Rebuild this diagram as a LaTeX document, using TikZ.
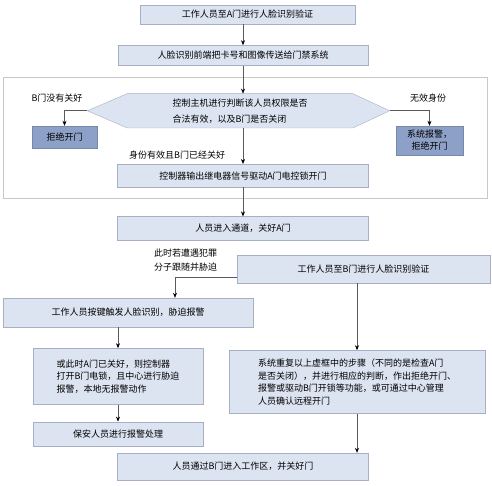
\documentclass[tikz,border=0pt]{standalone}
\usepackage{fontspec}
\newfontfamily\cjk{Noto Sans CJK SC}
\usetikzlibrary{positioning,arrows.meta,backgrounds}

\definecolor{boxfill}{RGB}{220,227,241}
\definecolor{boxline}{RGB}{168,175,196}
\definecolor{darkfill}{RGB}{141,160,199}
\definecolor{frameline}{RGB}{200,200,200}
\definecolor{linkline}{RGB}{90,90,90}

\tikzset{
  flowbox/.style={draw=boxline, fill=boxfill, inner sep=0pt, align=center,
    font=\cjk\fontsize{9}{12.7}\selectfont},
  darkbox/.style={flowbox, fill=darkfill, draw=darkfill!85!black},
  note/.style={inner sep=0pt, align=left, font=\cjk\fontsize{9}{14}\selectfont},
  hexa/.style={draw=boxline, fill=boxfill},
  frame/.style={draw=frameline, line width=0.6pt},
  link/.style={draw=linkline, line width=0.6pt},
  arr/.style={link, -{Stealth[length=5pt,width=4pt,color=black]}},
}

\begin{document}
\begin{tikzpicture}[x=1pt,y=1pt]
    \useasboundingbox (0,0) rectangle (492,-486);

    % Define nodes
    \node[flowbox, minimum width=215pt, minimum height=19pt] (a-verify) at (247.5,-14.5) {工作人员至A门进行人脸识别验证};
    \node[flowbox, minimum width=250pt, minimum height=20pt, below=21pt of a-verify, xshift=-4.5pt] (send) {人脸识别前端把卡号和图像传送给门禁系统};
    \node[note, font=\cjk\fontsize{9}{16}\selectfont, minimum width=225pt, minimum height=34pt, below=28pt of send, xshift=-3pt] (judge) {控制主机进行判断该人员权限是否\\合法有效，以及B门是否关闭};
    \coordinate[left=40pt of judge.west] (tip-l);
    \coordinate[right=37pt of judge.east] (tip-r);
    \node[flowbox, minimum width=251pt, minimum height=23pt, below=36pt of judge, xshift=3pt] (ctrl) {控制器输出继电器信号驱动A门电控锁开门};
    \node[flowbox, minimum width=251pt, minimum height=24pt, below=29pt of ctrl] (enter) {人员进入通道，关好A门};
    \node[darkbox, minimum width=65pt, minimum height=22pt] (no-l) at (64.5,-137) {拒绝开门};
    \node[darkbox, minimum width=67pt, minimum height=29pt, font=\cjk\fontsize{9}{12}\selectfont] (no-r) at (429.5,-140.5) {系统报警，\\拒绝开门};
    \node[note] (lbl-b) at (57,-98) {B门没有关好};
    \node[note] (lbl-inv) at (428,-98) {无效身份};
    \node[note, anchor=west] (lbl-ok) at (129,-155) {身份有效且B门已经关好};
    \node[note, anchor=west] (lbl-crim) at (154,-260) {此时若遭遇犯罪\\分子跟随并胁迫};
    \node[flowbox, minimum width=253pt, minimum height=28pt] (b-verify) at (363.5,-269) {工作人员至B门进行人脸识别验证};
    \node[flowbox, minimum width=250pt, minimum height=29pt] (duress) at (128,-312.5) {工作人员按键触发人脸识别，胁迫报警};
    \node[flowbox, align=left, minimum width=170pt, minimum height=56pt, below=21pt of duress, xshift=-10pt] (alarm) {或此时A门已关好，则控制器\\打开B门电锁，且中心进行胁迫\\报警，本地无报警动作};
    \node[flowbox, minimum width=170pt, minimum height=24pt, below=17pt of alarm] (guard) {保安人员进行报警处理};
    \node[flowbox, align=left, minimum width=256pt, minimum height=63pt, below=67pt of b-verify, xshift=-6.5pt] (repeat) {系统重复以上虚框中的步骤（不同的是检查A门\\是否关闭），并进行相应的判断，作出拒绝开门、\\报警或驱动B门开锁等功能，或可通过中心管理\\人员确认远程开门};
    \node[flowbox, minimum width=251pt, minimum height=27pt] (pass) at (243,-466.5) {人员通过B门进入工作区，并关好门};

    % Hexagon and frame
    \begin{scope}[on background layer]
      \draw[hexa] (judge.north west) -- (judge.north east) -- (tip-r) -- (judge.south east)
        -- (judge.south west) -- (tip-l) -- cycle;
      \draw[frame] (3,-77) rectangle (487,-198);
    \end{scope}

    % Connect the nodes
    \draw[arr] (send.north |- a-verify.south) -- (send.north);
    \draw[arr] (send.south) -- (send.south |- judge.north);
    \draw[arr] (tip-l) -| (no-l.north);
    \draw[arr] (tip-r) -| (no-r.north);
    \draw[arr] (ctrl.north |- judge.south) -- (ctrl.north);
    \draw[arr] (ctrl) -- (enter);
    \draw[arr] ([yshift=-8pt]b-verify.west) -| ([xshift=47pt]duress.north);
    \draw[arr] (alarm.north |- duress.south) -- (alarm.north);
    \draw[arr] (alarm) -- (guard);
    \draw[arr] (repeat.north |- b-verify.south) -- (repeat.north);
    \draw[arr] (repeat.south) -- (repeat.south |- pass.north);

\end{tikzpicture}
\end{document}
